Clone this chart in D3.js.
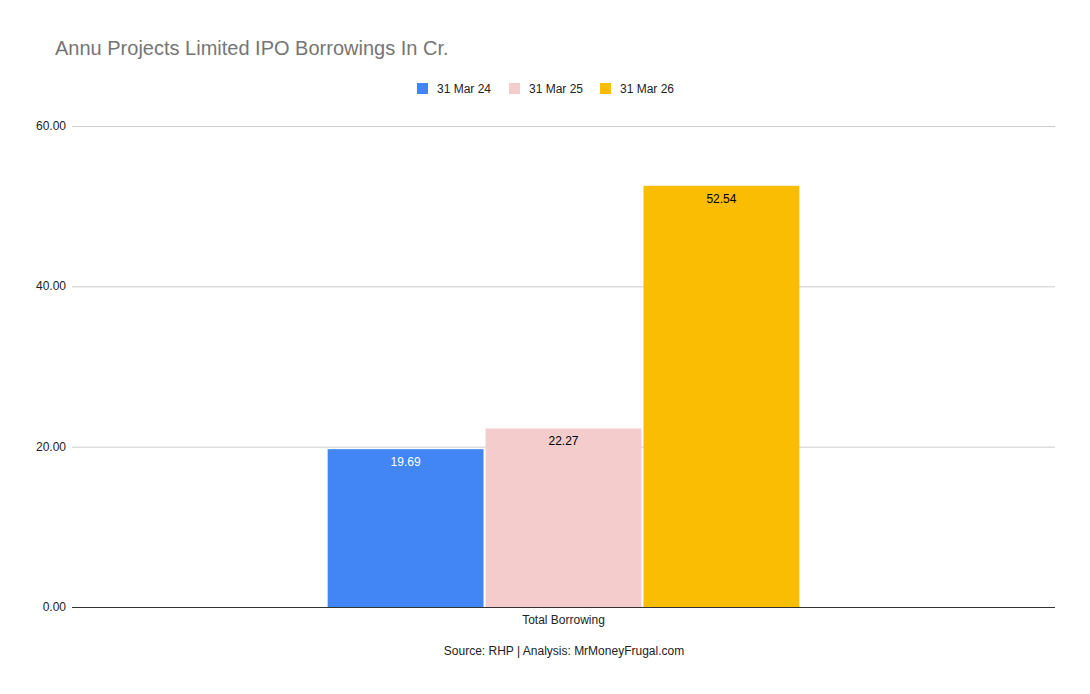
<!DOCTYPE html>
<html><head><meta charset="utf-8">
<script src="https://cdn.jsdelivr.net/npm/d3@7"></script>
<style>body{margin:0;background:#fff;font-family:Arial,"Liberation Sans",sans-serif}</style>
</head><body><svg id="c" width="1090" height="694"></svg>
<script>
const categories = ["Total Borrowing"];
const seriesNames = ["31 Mar 24", "31 Mar 25", "31 Mar 26"];
const seriesValues = [[19.69], [22.27], [52.54]];
const seriesColors = ["#4285F4", "#F4CCCC", "#FBBC04"];
const labelColors = ["#ffffff", "#000000", "#000000"];
const yTicks = [0, 20, 40, 60];

const svg = d3.select("#c");
const L = 72, R = 1055, T = 126, B = 607;
const y = d3.scaleLinear().domain([0, 60]).range([B, T]);
const x0 = d3.scaleBand().domain(categories).range([L, R]).paddingInner(0).paddingOuter(0.542);
const x1 = d3.scaleBand().domain(seriesNames).range([0, x0.bandwidth()]).paddingInner(0.013);

svg.append("rect").attr("width", 1090).attr("height", 694).attr("fill", "#fff");
svg.append("text").attr("x", 55).attr("y", 55).attr("font-size", 20).attr("fill", "#757575").text("Annu Projects Limited IPO Borrowings In Cr.");

const legX = [417, 509, 600];
seriesNames.forEach((s, i) => {
  svg.append("rect").attr("x", legX[i]).attr("y", 83).attr("width", 11).attr("height", 11).attr("fill", seriesColors[i]);
  svg.append("text").attr("x", legX[i] + 20).attr("y", 93).attr("font-size", 12).attr("fill", "#222").text(s);
});

svg.append("g").selectAll("line").data(yTicks.filter(d => d > 0)).join("line")
  .attr("x1", L).attr("x2", R).attr("y1", d => y(d) + 0.5).attr("y2", d => y(d) + 0.5)
  .attr("stroke", "#ccc");
svg.append("g").selectAll("text").data(yTicks).join("text")
  .attr("x", 66).attr("y", d => y(d) + 4).attr("text-anchor", "end").attr("font-size", 12).attr("fill", "#222")
  .text(d => d.toFixed(2));

categories.forEach((c, ci) => {
  seriesNames.forEach((s, i) => {
    const v = seriesValues[i][ci];
    const bx = x0(c) + x1(s);
    svg.append("rect").attr("x", bx).attr("y", y(v)).attr("width", x1.bandwidth()).attr("height", B - y(v)).attr("fill", seriesColors[i]);
    svg.append("text").attr("x", bx + x1.bandwidth() / 2).attr("y", y(v) + 17).attr("text-anchor", "middle")
      .attr("font-size", 12).attr("fill", labelColors[i]).text(v.toFixed(2));
  });
  svg.append("text").attr("x", x0(c) + x0.bandwidth() / 2).attr("y", 624).attr("text-anchor", "middle")
    .attr("font-size", 12).attr("fill", "#222").text(c);
});

svg.append("line").attr("x1", L).attr("x2", R).attr("y1", B + 0.5).attr("y2", B + 0.5).attr("stroke", "#333");
svg.append("text").attr("x", 564).attr("y", 655).attr("text-anchor", "middle").attr("font-size", 12).attr("fill", "#222")
  .text("Source: RHP | Analysis: MrMoneyFrugal.com");
</script></body></html>
